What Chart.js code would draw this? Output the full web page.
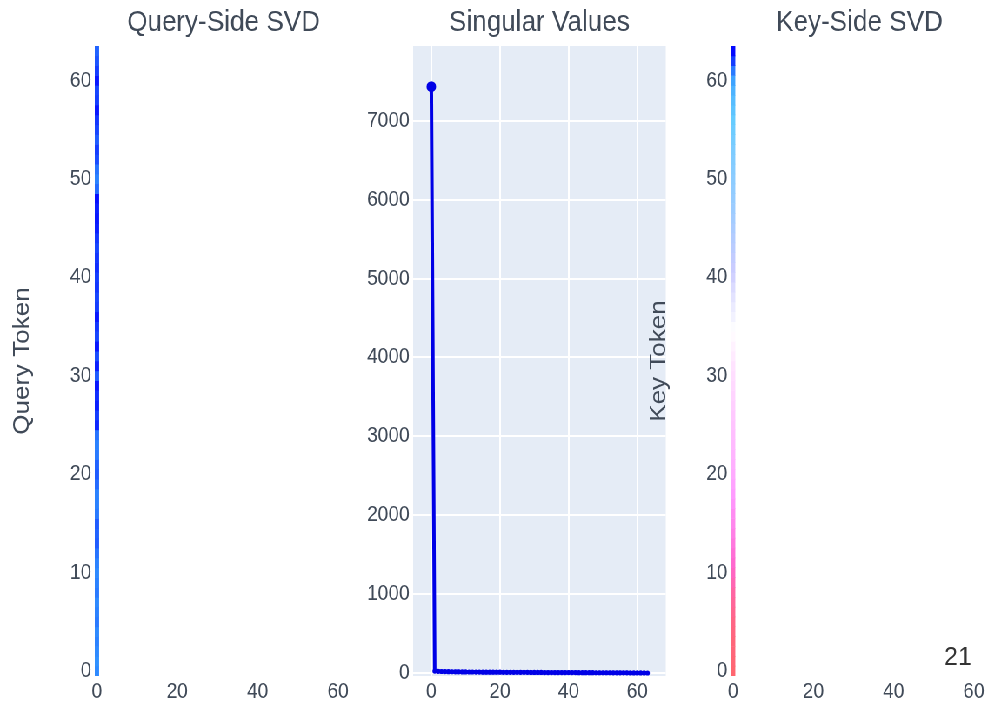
<!DOCTYPE html>
<html>
<head>
<meta charset="utf-8">
<script src="https://cdn.jsdelivr.net/npm/chart.js@4.4.1/dist/chart.umd.min.js"></script>
<style>
  html, body { margin: 0; padding: 0; background: #ffffff; overflow: hidden; }
  #page { position: relative; width: 988px; height: 707px; overflow: hidden; background: #ffffff; }
  /* the figure is laid out at 1136px and narrowed to the 988px page */
  #stage { position: absolute; left: 0; top: 0; width: 1136px; height: 707px;
           transform: scaleX(0.86972); transform-origin: 0 0; }
  #stage canvas { position: absolute; top: 0; }
  #pageNo { position: absolute; left: 944px; top: 644px; font: 25px 'Liberation Sans', Arial, sans-serif;
            line-height: 25px; color: #333333; }
</style>
</head>
<body>
<div id="page">
  <div id="stage">
    <canvas id="cQuery" width="405" height="707" style="left:0px"></canvas>
    <canvas id="cSing" width="351" height="707" style="left:420px"></canvas>
    <canvas id="cKey" width="395" height="707" style="left:741px"></canvas>
  </div>
  <div id="pageNo">21</div>
</div>
<script>
// ---- data -------------------------------------------------------------
// first singular vector on the query side (rows 0..63, column 0 of the map)
const queryVector = [
  -0.82, -0.81, -0.82, -0.83, -0.82, -0.84, -0.83, -0.82, -0.84, -0.83,
  -0.82, -0.83, -0.85, -0.88, -0.87, -0.88, -0.84, -0.83, -0.83, -0.86,
  -0.88, -0.87, -0.84, -0.83, -0.85, -0.95, -0.92, -0.96, -0.94, -0.97,
  -0.88, -0.96, -0.90, -0.97, -0.91, -0.93, -0.97, -0.92, -0.91, -0.93,
  -0.92, -0.94, -0.93, -0.91, -0.93, -0.96, -0.97, -0.96, -0.98, -0.86,
  -0.83, -0.85, -0.90, -0.92, -0.88, -0.91, -0.93, -0.97, -0.92, -0.91,
  -0.97, -0.92, -0.89, -0.87
];
// first singular vector on the key side (rows 0..63, column 0 of the map)
const keyVector = [
   0.78,  0.77,  0.76,  0.76,  0.75,  0.74,  0.72,  0.70,  0.68,  0.65,
   0.62,  0.59,  0.56,  0.53,  0.50,  0.47,  0.45,  0.42,  0.39,  0.36,
   0.33,  0.31,  0.29,  0.27,  0.25,  0.23,  0.21,  0.19,  0.17,  0.15,
   0.13,  0.11,  0.08,  0.05,  0.02, -0.01, -0.05, -0.08, -0.11, -0.14,
  -0.18, -0.21, -0.24, -0.27, -0.30, -0.33, -0.36, -0.39, -0.41, -0.43,
  -0.45, -0.47, -0.49, -0.51, -0.54, -0.57, -0.60, -0.63, -0.66, -0.70,
  -0.76, -0.84, -0.92, -0.99
];
// remaining singular directions carry (near) zero weight
const otherComponentValue = 0;

// singular values, largest first
const singularValues = [
  7431, 24, 21, 19, 18, 17, 16, 15,
  15, 14, 14, 13, 13, 12, 12, 11,
  11, 11, 10, 10, 10, 9, 9, 9,
  9, 8, 8, 8, 8, 7, 7, 7,
  7, 6, 6, 6, 6, 6, 5, 5,
  5, 5, 5, 4, 4, 4, 4, 4,
  3, 3, 3, 3, 3, 2, 2, 2,
  2, 2, 1, 1, 1, 1, 1, 0
];

const heatXTicks = [0, 20, 40, 60];
const heatYTicks = [0, 10, 20, 30, 40, 50, 60];
const svXTicks = [0, 20, 40, 60];
const svYTicks = [0, 1000, 2000, 3000, 4000, 5000, 6000, 7000];

// ---- styling ----------------------------------------------------------
const picnicStops = [
  [0.0, [0, 0, 255]], [0.1, [51, 153, 255]], [0.2, [102, 204, 255]],
  [0.3, [153, 204, 255]], [0.4, [204, 204, 255]], [0.5, [255, 255, 255]],
  [0.6, [255, 204, 255]], [0.7, [255, 153, 255]], [0.8, [255, 102, 204]],
  [0.9, [255, 102, 102]], [1.0, [255, 0, 0]]
];
function picnic(v) {
  const t = Math.min(1, Math.max(0, (v + 1) / 2));
  for (let i = 1; i < picnicStops.length; i++) {
    const [t1, c1] = picnicStops[i];
    const [t0, c0] = picnicStops[i - 1];
    if (t <= t1) {
      const f = (t - t0) / (t1 - t0);
      const c = c0.map((a, k) => Math.round(a + (c1[k] - a) * f));
      return `rgb(${c[0]},${c[1]},${c[2]})`;
    }
  }
  return 'rgb(255,0,0)';
}

const FONT = "'Liberation Sans', Arial, sans-serif";
const TEXT = '#404a58';
Chart.defaults.font.family = FONT;
Chart.defaults.color = TEXT;
Chart.defaults.animation = false;

const AREA_TOP = 46, AREA_BOTTOM = 676, CANVAS_H = 707;

function fixedTicks(list) {
  return scale => { scale.ticks = list.map(v => ({ value: v })); };
}
function titleOpts(text) {
  return {
    display: true, text, fullSize: false, color: TEXT,
    font: { size: 30, weight: 'normal', family: FONT },
    padding: { top: 5, bottom: AREA_TOP - 5 - 36 }
  };
}
const xAxisFit = scale => { scale.height = CANVAS_H - AREA_BOTTOM; };

// ---- heatmap (floating horizontal bars, one dataset per column) -------
const tokenIndex = Array.from({ length: queryVector.length }, (_, i) => i);
const componentIndex = Array.from({ length: 64 }, (_, i) => i);

function heatmapDatasets(vec) {
  return componentIndex.map(c => ({
    data: tokenIndex.map(r => ({ x: [c - 0.5, c + 0.5], y: r })),
    backgroundColor: tokenIndex.map(r => picnic(c === 0 ? vec[r] : otherComponentValue)),
    borderWidth: 0,
    grouped: false,
    barPercentage: 1,
    categoryPercentage: 1
  }));
}

function heatmapChart(canvasId, title, vec, axisTitle, yWidth, titlePad) {
  return new Chart(document.getElementById(canvasId), {
    type: 'bar',
    data: { datasets: heatmapDatasets(vec) },
    options: {
      indexAxis: 'y',
      responsive: false,
      events: [],
      layout: { padding: 0 },
      plugins: { legend: { display: false }, tooltip: { enabled: false }, title: titleOpts(title) },
      scales: {
        x: {
          type: 'linear', min: -0.5, max: 63.5, offset: false,
          grid: { display: false, drawTicks: false },
          border: { display: false },
          afterBuildTicks: fixedTicks(heatXTicks),
          afterFit: xAxisFit,
          ticks: { padding: 3, font: { size: 22 }, color: TEXT, callback: v => String(v) }
        },
        y: {
          type: 'linear', min: -0.5, max: 63.5, offset: false,
          grid: { display: false, drawTicks: false, offset: false },
          border: { display: false },
          afterBuildTicks: fixedTicks(heatYTicks),
          afterFit: scale => { scale.width = yWidth; },
          ticks: { padding: 4, font: { size: 22 }, color: TEXT, callback: v => String(v) },
          title: {
            display: true, text: axisTitle, color: TEXT,
            font: { size: 26, weight: 'normal', family: FONT },
            padding: { top: titlePad, bottom: 0 }
          }
        }
      }
    }
  });
}

heatmapChart('cQuery', 'Query-Side SVD', queryVector, 'Query Token', 109, 10);
heatmapChart('cKey', 'Key-Side SVD', keyVector, 'Key Token', 99.5, 1);

// ---- singular value spectrum -----------------------------------------
const plotBackground = {
  id: 'plotBackground',
  beforeDraw(chart) {
    const { ctx, chartArea: a } = chart;
    ctx.save();
    ctx.fillStyle = '#e5ecf6';
    ctx.fillRect(a.left, a.top, a.right - a.left, a.bottom - a.top);
    ctx.restore();
  }
};

const peak = Math.max(...singularValues);
new Chart(document.getElementById('cSing'), {
  type: 'line',
  data: {
    datasets: [{
      data: singularValues.map((v, i) => ({ x: i, y: v })),
      borderColor: 'rgb(0,0,230)',
      backgroundColor: 'rgb(0,0,230)',
      borderWidth: 4,
      tension: 0,
      pointRadius: ctx => (ctx.raw && ctx.raw.y === peak ? 5.5 : 2.6),
      pointBorderWidth: 0,
      fill: false
    }]
  },
  options: {
    responsive: false,
    events: [],
    layout: { padding: 0 },
    plugins: { legend: { display: false }, tooltip: { enabled: false }, title: titleOpts('Singular Values') },
    scales: {
      x: {
        type: 'linear', min: -5.3, max: 68.3,
        grid: { color: '#ffffff', lineWidth: 2, drawTicks: false },
        border: { display: false },
        afterBuildTicks: fixedTicks(svXTicks),
        afterFit: xAxisFit,
        ticks: { padding: 3, font: { size: 22 }, color: TEXT, callback: v => String(v) }
      },
      y: {
        type: 'linear', min: -38, max: 7947,
        grid: { color: '#ffffff', lineWidth: 2, drawTicks: false },
        border: { display: false },
        afterBuildTicks: fixedTicks(svYTicks),
        afterFit: scale => { scale.width = 55; },
        ticks: { padding: 4, font: { size: 22 }, color: TEXT, callback: v => String(v) }
      }
    }
  },
  plugins: [plotBackground]
});
</script>
</body>
</html>
